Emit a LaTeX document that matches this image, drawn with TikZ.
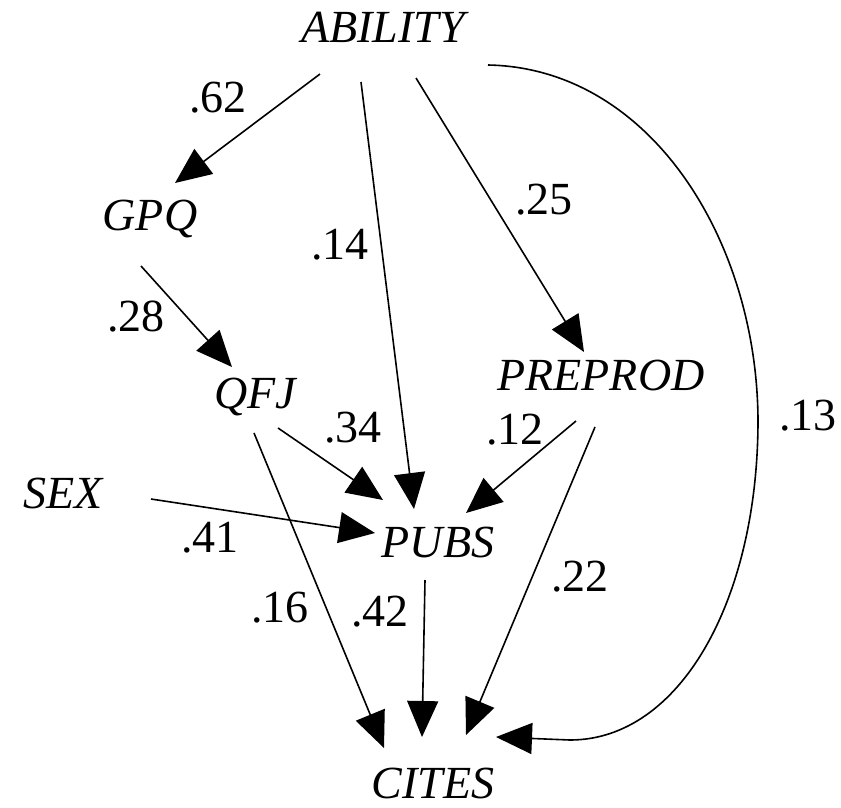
\documentclass[tikz,border=0pt]{standalone}
\usepackage{fontspec}
\setmainfont{Liberation Serif}
\usetikzlibrary{arrows.meta,calc}

\begin{document}
\begin{tikzpicture}[x=1pt,y=-1pt,
    varnode/.style={font=\fontsize{46}{50}\selectfont\itshape, inner sep=0pt, anchor=base},
    coef/.style={font=\fontsize{46}{50}\selectfont, inner sep=0pt},
    arr/.style={-{Triangle[length=36pt,width=31pt]}, line width=1.6pt},
]
\useasboundingbox (0,0) rectangle (841,807);

% variables
\node[varnode] (abil) at (383,42) {ABILITY};
\node[varnode] (gpq) at (150,230) {GPQ};
\node[varnode] (qfj) at (255,408) {QFJ};
\node[varnode] (preprod) at (601,390) {PREPROD};
\node[varnode] (sex) at (63,508) {SEX};
\node[varnode] (pubs) at (438,557) {PUBS};
\node[varnode] (cites) at (433,798) {CITES};

% path coefficients
\node[coef] (c62) at (218,98) {.62};
\node[coef] (c14) at (340,245) {.14};
\node[coef] (c25) at (544,200) {.25};
\node[coef] (c28) at (136,317) {.28};
\node[coef] (c34) at (353,428) {.34};
\node[coef] (c12) at (515,430) {.12};
\node[coef] (c41) at (210,538) {.41};
\node[coef] (c16) at (280,608) {.16};
\node[coef] (c42) at (380,612) {.42};
\node[coef] (c22) at (580,577) {.22};
\node[coef] (c13) at (808,416) {.13};

% paths from ABILITY
\draw[arr] ($(abil.base)+(-63,32)$) -- ($(gpq.base)+(25,-47)$);
\draw[arr] ($(abil.base)+(-22,40)$) -- ($(pubs.base)+(-24,-48)$);
\draw[arr] ($(abil.base)+(33,36)$) -- ($(preprod.base)+(-17,-38)$);
\draw[arr] ($(abil.base)+(105,23)$) .. controls (650,68) and (757,240) .. (758,420)
    .. controls (758,600) and (680,740) .. (570,740) -- ($(cites.base)+(63,-61)$);

% other paths
\draw[arr] ($(gpq.base)+(-9,36)$) -- ($(qfj.base)+(-23,-41)$);
\draw[arr] ($(qfj.base)+(23,20)$) -- ($(pubs.base)+(-55,-57)$);
\draw[arr] ($(qfj.base)+(-1,25)$) -- ($(cites.base)+(-49,-50)$);
\draw[arr] ($(sex.base)+(88,-9)$) -- ($(pubs.base)+(-63,-24)$);
\draw[arr] ($(preprod.base)+(-25,31)$) -- ($(pubs.base)+(28,-44)$);
\draw[arr] ($(preprod.base)+(-6,37)$) -- ($(cites.base)+(33,-63)$);
\draw[arr] ($(pubs.base)+(-13,23)$) -- ($(cites.base)+(-11,-61)$);
\end{tikzpicture}
\end{document}
